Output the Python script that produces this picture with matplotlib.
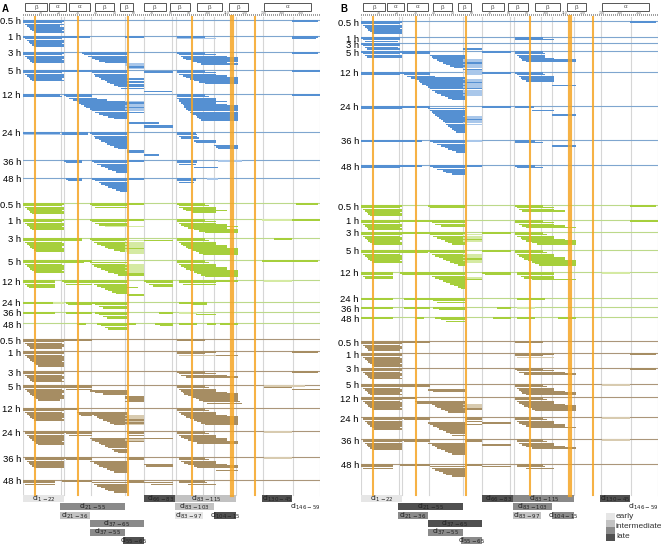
"""Peptide coverage maps (HDX) for two samples, three conditions, eight time points."""

import matplotlib.pyplot as plt
from matplotlib.patches import Rectangle

plt.rcParams["font.family"] = ["Liberation Sans", "DejaVu Sans"]

TIMES = ["0.5 h", "1 h", "3 h", "5 h", "12 h", "24 h", "36 h", "48 h"]
N_RES = 160

# secondary structure elements (label, first residue, last residue)
SS_LABELS = ["β", "α", "α", "β", "β", "β", "β", "β", "β", "α"]
SS_START = [2, 15, 26, 40, 53, 66, 80, 95, 112, 131]
SS_END = [13, 23, 36, 49, 59, 77, 90, 107, 121, 155]
RULER_TICKS = list(range(10, 160, 10))

CLUSTER_EDGES = [21, 22.5, 37, 55.5, 65.5, 80.5, 83, 97.5, 103.5, 115.5, 130, 146]
ORANGE_RES = [7, 30, 57, 91.5, 113, 125.5]

CLUSTER_START = [1, 21, 21, 37, 37, 55, 66, 83, 83, 83, 104, 130, 146]
CLUSTER_END = [22, 55, 36, 65, 55, 65, 83, 115, 103, 97, 115, 145, 159]
CLUSTER_NAMES = ["1-22", "21-55", "21-36", "37-65", "37-55", "55-65", "66-83",
                 "83-115", "83-103", "83-97", "104-15", "130-45", "146-59"]
# 0 early, 1-2 intermediate, 3 late, -1 unassigned
CLUSTER_CLASS_A = [0, 2, 1, 2, 2, 3, 3, 1, 1, 0, 3, 3, -1]
CLUSTER_CLASS_B = [0, 3, 2, 3, 2, 2, 3, 2, 2, 1, 2, 3, -1]

# peptides per time point: each string is one stack, "_" leaves a slot empty,
# "*" marks a low-uptake (pale) peptide
A_BLUE = [
    ["1-22 1-21 2-22 3-20 4-22 5-22 6-21 7-22", "146-159"],
    ["1-22 2-21 3-22 4-22 5-21 6-22 7-22", "23-36", "56-65", "84-98 84-104*", "146-159 146-158"],
    ["1-22 1-21 2-22 3-22 4-21 5-22 6-22",
     "33-56 34-56 36-56 38-56 40-56 42-56 45-56 56-65* 56-65* 57-65 57-65* _ 66-81",
     "84-98 85-104 86-110 87-116 89-116 92-116 95-110 97-116", "146-159"],
    ["1-22 1-21 2-22 3-22 4-22 5-21 6-22", "22-36",
     "37-56 38-56 39-56 40-56 42-56 43-65 45-56 46-65 48-56 50-65 52-65 54-65 _ 66-80",
     "84-98 84-104 85-104 87-110 89-116 91-116 93-116 96-116 99-116", "146-160"],
    ["1-20 1-21",
     "23-37 24-37 26-40 28-45 30-56 31-56 32-56 34-56 35-56 37-56 38-56 40-56 42-56 44-56 47-56 50-56",
     "_ _ _ _ 56-65* 56-65 57-65* 56-65* 57-65 56-65* 57-65* 56-65 _ _ _ _ _ _ 58-73 _ 66-81 66-81",
     "84-98 84-100 84-104 85-104 85-110 86-104 87-110 88-116 88-116 89-116 90-116 91-116 92-116 94-116 95-116 96-116 97-116",
     "146-160"],
    ["1-20 1-22*", "22-35 22-35",
     "37-56 38-56 39-56 40-56 42-56 43-56 45-56 46-56 48-56 50-56 52-56 57-65 57-65 _ 66-73",
     "84-93 84-94 85-94 86-95 _ 93-104 94-104 _ 104-116 105-116 106-116"],
    ["23-32 24-32", "38-56 39-56 41-56 43-56 45-56 47-56 49-56 51-56", "57-65",
     "84-94 84-94 85-93 _ 93-105", "106-118*"],
    ["24-32 25-32", "38-56 40-56 42-56 43-56 45-56 47-56 49-56 51-56 53-56", "57-65",
     "84-93 84-93 85-92", "100-105*"],
]

A_GREEN = [
    ["1-22 1-21 2-22 3-22 4-21 5-22 6-22", "37-65 38-56 40-56",
     "84-98 85-100 85-104 87-104 89-110 92-104", "148-159"],
    ["1-22 1-21 2-22 3-22 4-21 5-22 6-22", "37-65 38-56 40-56 42-56 45-65*",
     "84-98 84-104 85-104 86-110 88-116 90-110 93-116 96-116 99-116", "130-160*", "146-160"],
    ["1-22 1-22 2-21 3-22 4-22 5-21 6-22 7-22 8-22", "22-32 23-32",
     "37-56 38-56 39-56 41-56 43-56 45-56 47-56 50-56 53-56",
     "_ 56-65* 57-65* 56-65* 57-65* 56-65* 57-65 56-65* 56-65* 57-65*", "_ 66-81",
     "84-98 84-100 85-104 86-104 87-110 89-110 90-116 92-116 94-116 96-116 98-116", "136-145"],
    ["1-22 1-22 2-21 3-22 4-22 5-22 6-21 7-22", "22-37 23-33",
     "_ 37-56 38-56 39-56 41-56 43-56 45-56 47-56 50-56 52-56",
     "_ _ 56-65* 57-65* 56-65* 57-65* 56-65* 57-65* 56-65 57-65",
     "84-98 84-100 85-104 86-104 88-110 89-110 91-116 93-116 95-116 97-116 99-116",
     "130-145", "146-159"],
    ["1-17 1-17 2-17 3-17 4-17", "22-37 23-37 24-37",
     "37-56 38-56 39-56 41-56 43-56 45-56 47-56 49-56 51-56", "_ _ _ _ 57-62 _ _ _ _ 57-65",
     "66-81 67-81 69-81 71-81", "85-104 85-104 87-104", "105-116", "131-145*"],
    ["1-17", "17-22*", "24-37 25-37", "38-56 40-56 42-56 44-56", "85-99 92-99"],
    ["1-17", "24-37", "40-56 42-56 44-56 46-56", "74-81", "85-94* 94-104"],
    ["30-34", "41-56 43-56 45-56 47-56", "56-61", "72-81 75-81", "85-94", "100-104", "107-116"],
]

A_BROWN = [
    ["1-22 1-22 2-21 3-22 4-22 5-21", "22-37", "84-98"],
    ["1-22 1-22 2-21 3-22 4-22 5-22 6-21 7-22 8-22 9-22", "84-104 84-98 85-104*",
     "_ _ 105-116", "146-159"],
    ["1-22 1-22 2-21 3-22 4-22 5-21 6-22", "84-98 85-104 86-110 89-116", "146-159"],
    ["1-22 1-22 2-21 3-22 4-22 5-21 6-22 7-22 8-22 9-20",
     "22-37 23-37 24-37 37-56 40-56 44-56 _ 56-65 56-65 57-65 56-65",
     "84-98 84-100 85-104 86-104 87-110 88-116 90-116 92-116 94-116 96-116 98-117 100-118",
     "131-152* 131-145 146-160"],
    ["1-22 1-22 2-21 3-22 4-22 5-22 6-21 7-22", "22-30 _ 30-37 31-37 32-37",
     "_ _ 37-56 38-56 39-56 41-56 42-56 44-56 46-56 48-56 50-56",
     "_ _ _ _ 56-65* 57-65* 56-65* 57-65 56-65* 57-65 56-65*",
     "84-98 84-100 85-104 86-104 88-110 89-116 91-116 93-116 95-116 97-116 99-116"],
    ["2-22 2-22 3-22 4-22 5-22 6-22 7-21 8-22 9-22", "22-37 24-37 26-37",
     "_ _ _ _ 37-56 38-56 40-56 42-56 43-56 45-56 47-56 49-56 50-56 52-56",
     "57-65 57-65 58-65 _ 57-65 56-65* 57-65", "_ _ _ _ 66-81",
     "84-98 84-100 85-104 86-104 88-110 90-110 92-116 95-116", "131-145*"],
    ["2-22 2-22 3-22 4-22 5-22 6-22 7-22", "22-37 24-37",
     "_ _ 37-56 39-56 41-56 42-56 44-56 46-56 48-56 50-56", "57-65 57-65",
     "_ _ _ _ 66-81 67-81", "85-98 85-100 86-104 88-104 90-110 93-116 95-116 _ 105-116",
     "131-145*"],
    ["1-17 1-17 2-17", "22-37", "_ 38-56 39-56 41-56 43-56 45-56 47-56 50-56", "57-65 57-65",
     "_ 66-81 70-81", "85-98 85-99 90-104"],
]

B_BLUE = [
    ["1-22 1-21 2-22 3-22 4-21 5-22 6-22 7-22", "146-159"],
    ["1-21 2-21 3-20", "84-98 84-104"],
    ["1-21 2-21 3-20 4-21", "_ _ _ 56-65"],
    ["1-22 2-21 3-22 4-22", "22-37 23-37",
     "_ _ 38-56 39-56 40-56 42-56 43-56 45-56 47-56 49-56 51-56",
     "_ _ _ _ _ 56-65* 56-65* 57-65 56-65* 57-65* 56-65* 56-65 57-65* 56-65* 57-65*",
     "66-81", "84-98 84-99 85-99 86-99 87-104 88-116 90-116"],
    ["1-22 1-21",
     "22-37 24-37 26-40 28-56 30-56 32-56 33-56 34-56 36-56 37-56 38-56 39-56 41-56 42-56 44-56 46-56 48-56 50-56",
     "_ _ _ _ 56-65* 57-65* 56-65 56-65* 57-65* 56-65* 57-65 56-65* 56-65* 57-65* 56-65*",
     "66-81", "84-98 85-99 86-104 87-104 88-104 90-104 _ _ 104-116"],
    ["1-22 1-22", "22-37",
     "_ 37-56 38-56 39-56 40-56 41-56 42-56 43-56 44-56 45-56 46-56 47-56 48-56 49-56 50-56 51-56 52-56",
     "_ _ _ _ _ _ 56-65* 57-65* 56-65 57-65* 56-65* 57-65*",
     "66-81", "84-93 _ 93-104 _ _ 104-116"],
    ["1-22", "22-33", "38-56 40-56 42-56 44-56 46-56 48-56 50-56 52-56", "57-65*",
     "84-94 84-98", "_ _ _ 104-116"],
    ["1-22 1-21", "22-33", "38-56 40-56 42-56 45-56 47-56 50-56", "57-65", "84-94 85-98"],
]

B_GREEN = [
    ["1-22 1-21 2-22 3-22 4-21 5-22 6-22", "37-56 38-56", "84-98 85-104 86-104 88-110",
     "146-159"],
    ["1-22 1-21 2-22 3-22 4-21 5-22", "22-36", "37-56 39-56 41-56 44-56",
     "84-98 84-104 86-104 88-110 90-116", "146-160"],
    ["1-22 1-22 2-21 3-22 4-22 5-21 6-22 7-22", "22-37",
     "37-56 38-56 40-56 42-56 44-56 46-56 48-56 50-56",
     "_ 56-65* 57-65* 56-65* 57-65 56-65*", "66-81",
     "84-98 84-100 85-104 87-104 88-110 90-116 93-116 96-116"],
    ["1-22 1-22 2-21 3-22 4-22 5-22 6-21 7-22", "22-37 23-36",
     "37-56 38-56 39-56 41-56 43-56 45-56 47-56 49-56 51-56 53-56",
     "_ _ 56-65* 57-65* 56-65* 57-65 56-65* 57-65*", "66-81",
     "84-98 84-100 85-104 86-104 88-110 89-110 91-116 93-116 95-116 97-116"],
    ["1-17 1-17 2-17 3-17", "22-37 23-37",
     "37-56 38-56 39-56 41-56 43-56 45-56 47-56 49-56 51-56 53-56 55-56",
     "_ _ _ 57-65* 57-65", "66-81 68-81",
     "85-104 85-104 87-104 89-104 93-116", "131-145*"],
    ["1-17", "24-37", "38-56 40-56 42-56", "85-99"],
    ["1-17", "24-37", "40-56 43-56", "74-81", "85-94*"],
    ["1-17", "30-34", "41-56 44-56 47-56", "72-81", "85-94", "107-116"],
]

B_BROWN = [
    ["1-22 1-22 2-21 3-22 4-22 5-21", "22-37", "84-98"],
    ["1-22 1-22 2-21 3-22 4-22 5-22 6-21 7-22 8-22", "84-104 84-98 85-104*", "146-159"],
    ["1-22 1-22 2-21 3-22 4-22 5-21 6-22", "84-98 85-104 86-110 89-116", "146-159"],
    ["1-22 1-22 2-21 3-22 4-22 5-21 6-22", "22-37 23-37 _ 37-56 40-56",
     "84-98 84-100 85-104 86-104 87-110 88-116 90-116", "131-145*"],
    ["1-22 1-22 2-21 3-22 4-22 5-22 6-21 7-22", "22-30 _ 30-37 31-37",
     "_ _ 37-56 38-56 39-56 41-56 42-56 44-56 46-56 48-56",
     "_ _ _ _ 56-65* 57-65* 56-65* 57-65",
     "84-98 84-100 85-104 86-104 88-110 89-116 91-116 93-116 95-116"],
    ["2-22 2-22 3-22 4-22 5-22 6-22 7-21 8-22", "22-37 24-37",
     "_ _ _ 37-56 38-56 40-56 42-56 43-56 45-56 47-56 49-56 50-56",
     "57-65 57-65 58-65 _ 57-65", "_ _ _ 66-81",
     "84-98 84-100 85-104 86-104 88-110 90-110 92-116", "131-145*"],
    ["2-22 2-22 3-22 4-22 5-22 6-22 7-22", "22-37 24-37",
     "_ _ 37-56 39-56 41-56 42-56 44-56 46-56 48-56 50-56", "57-65 57-65",
     "_ _ _ 66-81", "85-98 85-100 86-104 88-104 90-110 93-116", "131-145*"],
    ["1-17 1-17 2-17", "22-37", "_ 38-56 39-56 41-56 43-56 45-56 47-56 50-56", "57-65",
     "_ 66-81", "85-98 85-99 90-104"],
]

# ---- layout (pixels) ----
W, H = 661, 546
PANEL_X0 = {"A": 23, "B": 361}
PANEL_W = 297
ROW_Y = {
    ("A", "blue"): [20, 36, 52, 70, 94, 132, 160, 178],
    ("A", "green"): [203, 219, 238, 260, 280, 302, 312, 323],
    ("A", "brown"): [339, 351, 371, 385, 408, 431, 457, 480],
    ("B", "blue"): [21, 37, 43, 51, 72, 106, 140, 165],
    ("B", "green"): [205, 220, 232, 250, 272, 298, 307, 317],
    ("B", "brown"): [341, 353, 368, 384, 397, 417, 439, 464],
}
COLORS = {
    "blue": ("#5590d2", "#a9c7ea", "#7fa6cf"),
    "green": ("#a6cf3c", "#d5eaa3", "#bcd98a"),
    "brown": ("#a68d63", "#d8cbb0", "#ab967a"),
}
CLASS_COLORS = {0: "#e6e6e6", 1: "#c2c2c2", 2: "#8a8a8a", 3: "#505050", -1: "white"}
CLUSTER_LEVEL = [0, 1, 2, 3, 4, 5, 0, 0, 1, 2, 2, 0, 1]
STEP, BAR_H = 1.55, 1.45


def parse_stack(text):
    bars = []
    for slot, token in enumerate(text.split()):
        if token == "_":
            continue
        pale = token.endswith("*")
        start, end = token.rstrip("*").split("-")
        bars.append((slot, int(start), int(end), pale))
    return bars


def draw_section(ax, rows, row_y, color_key):
    dark, pale, line = COLORS[color_key]
    for y0, stacks in zip(row_y, rows):
        ax.plot([0.5, N_RES + 0.5], [y0, y0], color=line, lw=0.8, zorder=2)
        for stack in stacks:
            for slot, start, end, is_pale in parse_stack(stack):
                ax.barh(y0 + 1.2 + slot * STEP, end - start + 1, left=start - 0.5,
                        height=BAR_H, color=pale if is_pale else dark, lw=0, zorder=3)


def draw_panel(fig, key, sections, cluster_class):
    x0 = PANEL_X0[key]
    ax = fig.add_axes([x0 / W, 0, PANEL_W / W, 1])
    ax.set_xlim(0.5, N_RES + 0.5)
    ax.set_ylim(H, 0)
    ax.axis("off")

    for edge in [0.5] + CLUSTER_EDGES + [N_RES + 0.5]:
        ax.plot([edge, edge], [17, 495], color="#d6d6d6", lw=0.8, zorder=1)
    for res in ORANGE_RES:
        lw = 3.0 if res == 113 else 1.5
        ax.plot([res, res], [17, 495], color="#f5a524", lw=lw, alpha=0.85, zorder=4)

    # secondary structure and sequence ruler
    for label, s, e in zip(SS_LABELS, SS_START, SS_END):
        ax.add_patch(Rectangle((s - 0.5, 3), e - s + 1, 7.5, fill=False,
                               edgecolor="#555555", lw=0.7))
        ax.text((s + e) / 2, 7, label, ha="center", va="center", fontsize=4.5, color="#555555")
    ax.plot([0.5, N_RES + 0.5], [15, 15], color="#8c8c8c", lw=1.2, ls=(0, (0.6, 0.6)))
    for t in RULER_TICKS:
        ax.text(t, 12.5, str(t), ha="center", va="center", fontsize=2.6, color="#666666")

    for color_key in ("blue", "green", "brown"):
        draw_section(ax, sections[color_key], ROW_Y[(key, color_key)], color_key)
        for y0, label in zip(ROW_Y[(key, color_key)], TIMES):
            fig.text((x0 - 2) / W, 1 - (y0 + 2) / H, label, ha="right", va="center",
                     fontsize=6.8)

    for i, (s, e) in enumerate(zip(CLUSTER_START, CLUSTER_END)):
        cls = cluster_class[i]
        y = 495 + CLUSTER_LEVEL[i] * 8.4
        ax.add_patch(Rectangle((s - 0.5, y), e - s + 1, 7, facecolor=CLASS_COLORS[cls],
                               edgecolor="none", zorder=2))
        ax.text((s + e) / 2, y + 3.6, f"cl$_{{{CLUSTER_NAMES[i]}}}$", ha="center", va="center",
                fontsize=5.5, color="#222222", zorder=3)

    fig.text((x0 - 21) / W, 1 - 9 / H, key, fontsize=7, fontweight="bold", va="center")
    return ax


fig = plt.figure(figsize=(W / 100, H / 100), dpi=100)
draw_panel(fig, "A", {"blue": A_BLUE, "green": A_GREEN, "brown": A_BROWN}, CLUSTER_CLASS_A)
draw_panel(fig, "B", {"blue": B_BLUE, "green": B_GREEN, "brown": B_BROWN}, CLUSTER_CLASS_B)

# legend for cluster timing
legend_labels = ["early", "intermediate", "late"]
for i, cls in enumerate([0, 1, 2, 3]):
    fig.patches.append(Rectangle((606 / W, 1 - (513 + (i + 1) * 7) / H), 9 / W, 7 / H,
                                 facecolor=CLASS_COLORS[cls], transform=fig.transFigure))
for label, y in zip(legend_labels, [517, 527, 537]):
    fig.text(616 / W, 1 - y / H, label, fontsize=6, va="center", color="#333333")

fig.savefig("out.png", dpi=100, facecolor="white")
